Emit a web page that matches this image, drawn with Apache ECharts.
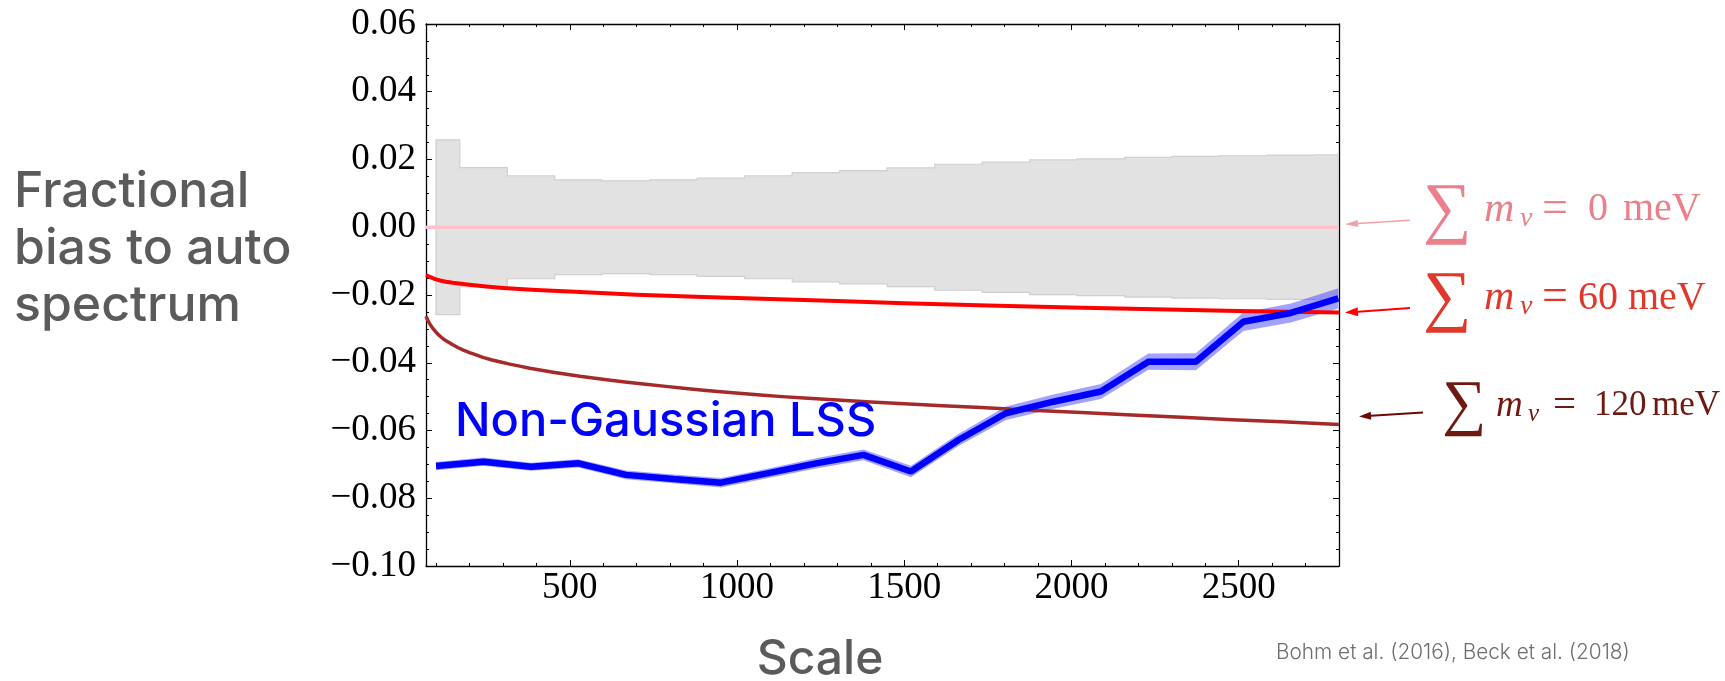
<!DOCTYPE html>
<html><head><meta charset="utf-8">
<script src="https://cdn.jsdelivr.net/npm/echarts@6/dist/echarts.min.js"></script>
<style>html,body{margin:0;padding:0;background:#fff}#c{width:1725px;height:681px}</style>
</head><body><div id="c"></div>
<script>
// ---------- data ----------
const xMin = 70, xMax = 2800;
const yMin = -0.10, yMax = 0.06, yInterval = 0.02;
const xMajorTicks = [500, 1000, 1500, 2000, 2500];
const xMinorTicks = [100,200,300,400,500,600,700,800,900,1000,1100,1200,1300,1400,1500,1600,1700,1800,1900,2000,2100,2200,2300,2400,2500,2600,2700,2800];

// multipole bin centres
const ell = [100,242,384,526,668,810,952,1094,1236,1378,1520,1662,1804,1946,2088,2230,2372,2514,2656,2798];
// grey band half-width (noise)
const noiseSigma = [0.0258,0.0176,0.0152,0.0140,0.0137,0.0140,0.0145,0.0152,0.0161,0.0167,0.0175,0.0186,0.0192,0.0199,0.0202,0.0206,0.0209,0.0211,0.0213,0.0214];
// Non-Gaussian LSS bias and its uncertainty
const lssBias = [-0.0705,-0.0692,-0.0707,-0.0697,-0.0731,-0.0743,-0.0754,-0.0726,-0.0697,-0.0672,-0.0721,-0.0628,-0.0549,-0.0515,-0.0485,-0.0397,-0.0397,-0.0279,-0.0253,-0.0210];
const lssSigma = [0.0012,0.0012,0.0012,0.0012,0.0013,0.0013,0.0014,0.0014,0.0015,0.0016,0.0017,0.0018,0.0020,0.0021,0.0022,0.0024,0.0025,0.0027,0.0028,0.0030];
// neutrino mass curves
const m0X = [70, 2800];
const m0Y = [0, 0];
const m60X = [70,80,90,100,115,130,150,175,200,250,300,400,500,700,900,1100,1300,1500,1750,2000,2250,2500,2800];
const m60Y = [-0.0141,-0.0146,-0.0150,-0.0154,-0.0158,-0.0161,-0.0164,-0.0167,-0.0170,-0.0175,-0.0179,-0.0185,-0.0190,-0.0199,-0.0206,-0.0212,-0.0218,-0.0224,-0.0231,-0.0237,-0.0242,-0.0247,-0.0252];
const m120X = [70,75,80,85,90,95,100,108,115,122,130,140,150,165,180,200,220,240,265,290,320,350,380,415,450,490,530,570,610,665,720,780,840,900,960,1015,1070,1135,1200,1300,1400,1500,1615,1730,1880,2030,2180,2330,2480,2630,2800];
const m120Y = [-0.0263,-0.0274,-0.0283,-0.0291,-0.0298,-0.0304,-0.0310,-0.0318,-0.0324,-0.0330,-0.0335,-0.0341,-0.0347,-0.0355,-0.0362,-0.0370,-0.0377,-0.0384,-0.0391,-0.0397,-0.0404,-0.0410,-0.0416,-0.0422,-0.0428,-0.0434,-0.0440,-0.0445,-0.0450,-0.0457,-0.0463,-0.0469,-0.0475,-0.0481,-0.0486,-0.0491,-0.0495,-0.0500,-0.0504,-0.0510,-0.0516,-0.0521,-0.0527,-0.0532,-0.0540,-0.0547,-0.0554,-0.0561,-0.0568,-0.0574,-0.0582];

const yTitle = 'Fractional\nbias to auto\nspectrum';
const xTitle = 'Scale';
const lssLabel = 'Non-Gaussian LSS';
const credit = 'Bohm et al. (2016), Beck et al. (2018)';
const massLabels = ['0', '60', '120'];

// ---------- chart ----------
const chart = echarts.init(document.getElementById('c'));
const SERIF = '"Liberation Serif", "DejaVu Serif", serif';
const axisLineStyle = {color:'#000', width:1.3};
const tickStyle = {color:'#000', width:1};
const pair = (xs, ys) => xs.map((x, i) => [x, ys[i]]);
const fmtY = v => { const r = Math.round(v*100)/100; return (r < 0 ? '\u2212' : '') + Math.abs(r).toFixed(2); };

function xAx(pos, major) {
  return {
    type:'value', position:pos, min:xMin, max:xMax, gridIndex:0,
    axisLine:{show:major, lineStyle:axisLineStyle, onZero:false},
    axisTick:{show:true, inside:true, length: major ? 6 : 3, customValues: major ? xMajorTicks : xMinorTicks, lineStyle:tickStyle},
    axisLabel:{show: major && pos === 'bottom', customValues:xMajorTicks, formatter: v => String(Math.round(v)), margin:4, fontSize:37, fontFamily:SERIF, color:'#000'},
    splitLine:{show:false}
  };
}
function yAx(pos) {
  return {
    type:'value', position:pos, min:yMin, max:yMax, interval:yInterval,
    axisLine:{show:true, lineStyle:axisLineStyle, onZero:false},
    axisTick:{show:true, inside:true, length:6, lineStyle:tickStyle},
    minorTick:{show:true, splitNumber:4, length:3, lineStyle:tickStyle},
    axisLabel:{show: pos === 'left', formatter:fmtY, margin:10, fontSize:37, fontFamily:SERIF, color:'#000'},
    splitLine:{show:false}, minorSplitLine:{show:false}
  };
}
const common = {type:'line', symbol:'none', showSymbol:false, silent:true, xAxisIndex:0, yAxisIndex:0, emphasis:{disabled:true}};

// step band (noise) drawn through the axes' coordinate conversion
function noiseBandRender(params, api) {
  if (params.dataIndex !== 0) return null;
  const n = ell.length, top = [], bot = [];
  for (let i = 0; i < n; i++) {
    const xl = i === 0 ? ell[0] : (ell[i-1] + ell[i]) / 2;
    const xr = i === n-1 ? ell[n-1] : (ell[i] + ell[i+1]) / 2;
    top.push(api.coord([xl, noiseSigma[i]]), api.coord([xr, noiseSigma[i]]));
    bot.push(api.coord([xl, -noiseSigma[i]]), api.coord([xr, -noiseSigma[i]]));
  }
  return {type:'polygon', shape:{points: top.concat(bot.reverse())}, style:{fill:'#e2e2e2', stroke:'#cfcfcf', lineWidth:1.2}};
}
function lssBandRender(params, api) {
  if (params.dataIndex !== 0) return null;
  const up = [], lo = [];
  for (let i = 0; i < ell.length; i++) {
    up.push(api.coord([ell[i], lssBias[i] + lssSigma[i]]));
    lo.push(api.coord([ell[i], lssBias[i] - lssSigma[i]]));
  }
  return {type:'polygon', shape:{points: up.concat(lo.reverse())}, style:{fill:'rgba(50,50,255,0.45)'}};
}

const option = {
  animation:false,
  backgroundColor:'#ffffff',
  grid:{left:426, right:386, top:24, bottom:115, containLabel:false},
  xAxis:[xAx('bottom', true), xAx('bottom', false), xAx('top', true), xAx('top', false)],
  yAxis:[yAx('left'), yAx('right')],
  series:[
    {type:'custom', name:'noise', coordinateSystem:'cartesian2d', xAxisIndex:0, yAxisIndex:0, clip:true, silent:true, z:1,
      data: pair(ell, noiseSigma), renderItem: noiseBandRender},
    Object.assign({}, common, {name:'m0', data: pair(m0X, m0Y), lineStyle:{color:'#ffc0cb', width:3.4}, z:2}),
    {type:'custom', name:'lssBand', coordinateSystem:'cartesian2d', xAxisIndex:0, yAxisIndex:0, clip:true, silent:true, z:3,
      data: pair(ell, lssBias), renderItem: lssBandRender},
    Object.assign({}, common, {name:'m60', data: pair(m60X, m60Y), lineStyle:{color:'#ff0000', width:4, join:'round'}, z:4}),
    Object.assign({}, common, {name:'m120', data: pair(m120X, m120Y), lineStyle:{color:'#a52a2a', width:3.5, join:'round'}, z:4}),
    Object.assign({}, common, {name:'lss', data: pair(ell, lssBias), lineStyle:{color:'#0000ff', width:6.5}, z:5})
  ]
};
chart.setOption(option);

// ---------- annotations ----------
const px = (x, y) => chart.convertToPixel({xAxisIndex:0, yAxisIndex:0}, [x, y]);
function txt(x, y, text, font, fill, align, va) {
  return {type:'text', x:x, y:y, silent:true, z:100,
    style:{text:text, font:font, fill:fill, align:align||'left', verticalAlign:va||'middle', textAlign:align||'left', textVerticalAlign:va||'middle'}};
}
function arrow(tail, tip, color, lw, hl, hw) {
  const dx = tip[0]-tail[0], dy = tip[1]-tail[1];
  const L = Math.sqrt(dx*dx+dy*dy), ux = dx/L, uy = dy/L;
  const bx = tip[0]-ux*hl, by = tip[1]-uy*hl;
  return [
    {type:'line', silent:true, z:100, shape:{x1:tail[0], y1:tail[1], x2:bx, y2:by}, style:{stroke:color, lineWidth:lw}},
    {type:'polygon', silent:true, z:100, shape:{points:[[tip[0],tip[1]],[bx-uy*hw/2, by+ux*hw/2],[bx+uy*hw/2, by-ux*hw/2]]}, style:{fill:color}}
  ];
}
const g = [];
const yt = txt(14, 249, yTitle, '500 50px Inter', '#5b5b5b', 'left', 'middle');
yt.style.lineHeight = 57;
g.push(yt);
g.push(txt(820, 660, xTitle, '500 48px Inter', '#5b5b5b', 'center', 'middle'));
g.push(txt(455, 422, lssLabel, '500 47px Inter', '#0000ff', 'left', 'middle'));
g.push(txt(1276, 653, credit, '300 20.8px Inter', '#6e6e6e', 'left', 'middle'));

// mass labels
const rows = [
  {base:221.7, x0:1423, S:40, sum:68, color:'#e9808a', acolor:'#f0a2aa', end:m0Y[m0Y.length-1], off:[6,-3], tail:[65,-4], lw:1.6, hl:13, hw:7, m:61, nu:97, eq:119, val:165, mev:200},
  {base:310,   x0:1423, S:40, sum:68, color:'#e0392b', acolor:'#ff0000', end:m60Y[m60Y.length-1], off:[6,0], tail:[65,-4.5], lw:2, hl:13, hw:9, m:61, nu:97, eq:119, val:155, mev:205},
  {base:416.7, x0:1442, S:35, sum:62, color:'#6e1a12', acolor:'#6b0808', end:m120Y[m120Y.length-1], off:[20,-8], tail:[64,-4], lw:2, hl:12, hw:8, m:54, nu:86, eq:111, val:152, mev:210}
];
rows.forEach((r, i) => {
  const S = r.S, mid = r.base - 0.3*S, sub = Math.round(S*0.7);
  g.push(txt(r.x0, r.base - 10, '\u2211', r.sum + 'px ' + SERIF, r.color, 'left', 'middle'));
  g.push(txt(r.x0 + r.m, mid, 'm', 'italic ' + (S+2) + 'px ' + SERIF, r.color, 'left', 'middle'));
  g.push(txt(r.x0 + r.nu, r.base + 5 - 0.3*sub, '\u03BD', 'italic ' + sub + 'px ' + SERIF, r.color, 'left', 'middle'));
  g.push(txt(r.x0 + r.eq, mid, '=', (S+6) + 'px ' + SERIF, r.color, 'left', 'middle'));
  g.push(txt(r.x0 + r.val, mid, massLabels[i], S + 'px ' + SERIF, r.color, 'left', 'middle'));
  g.push(txt(r.x0 + r.mev, mid, 'meV', S + 'px ' + SERIF, r.color, 'left', 'middle'));
  const p = px(xMax, r.end);
  const tip = [p[0] + r.off[0], p[1] + r.off[1]];
  const tail = [tip[0] + r.tail[0], tip[1] + r.tail[1]];
  arrow(tail, tip, r.acolor, r.lw, r.hl, r.hw).forEach(e => g.push(e));
});
chart.setOption({graphic: g});
</script>
</body></html>
